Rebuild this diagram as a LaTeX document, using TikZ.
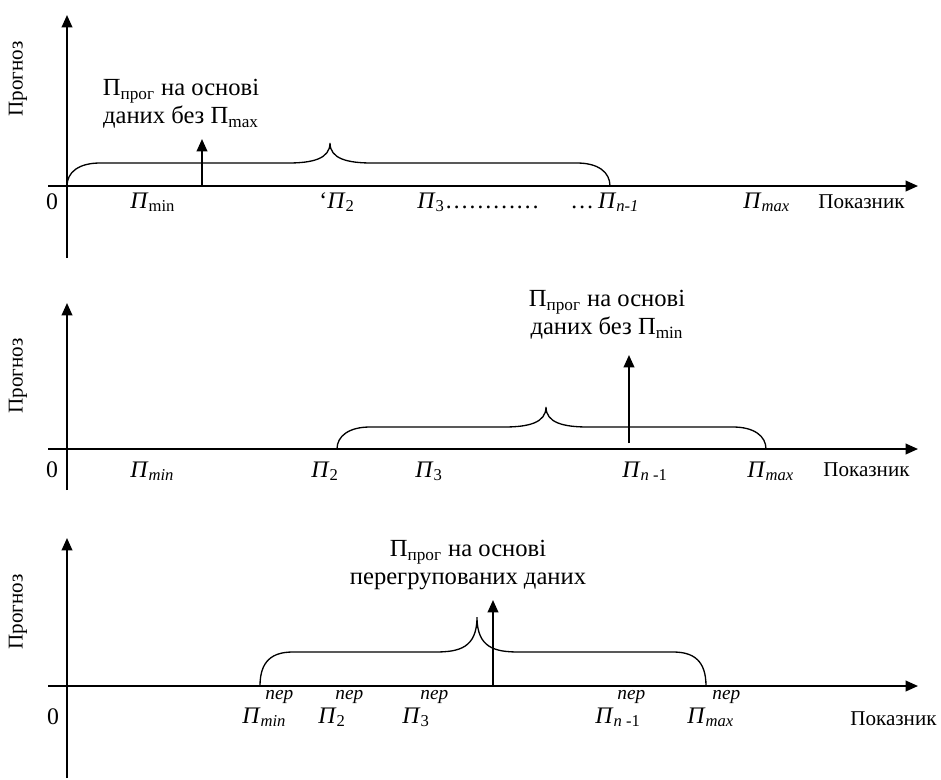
\documentclass[tikz,border=0pt]{standalone}
\usepackage{fontspec}
\setmainfont{Liberation Serif}
\usetikzlibrary{arrows.meta}

% brace over an interval: left x, peak x, right x, axis y, flat y, peak y
\newcommand{\prbrace}[6]{%
  \draw[curly] (#1,#4) .. controls (#1,#5+9) and (#1+12,#5) .. (#1+33,#5)
    -- (#2-42,#5) .. controls (#2-18,#5) and (#2,#5-4) .. (#2,#6)
    .. controls (#2,#5-4) and (#2+18,#5) .. (#2+42,#5)
    -- (#3-33,#5) .. controls (#3-12,#5) and (#3,#5+9) .. (#3,#4);}

\begin{document}
\begin{tikzpicture}[x=0.02cm,y=-0.02cm,
    axis/.style={line width=1.1pt,-{Triangle[length=7pt,width=6pt]}},
    curly/.style={line width=0.75pt},
    val/.style={inner sep=0pt,anchor=base west,font=\fontsize{13.5}{15}\selectfont},
    per/.style={inner sep=0pt,anchor=base west,font=\fontsize{11}{12}\selectfont\itshape},
    axname/.style={inner sep=0pt,font=\fontsize{12}{14}\selectfont},
    note/.style={inner sep=0pt,align=center,font=\fontsize{14}{16}\selectfont}]
  \useasboundingbox (0,0) rectangle (941,779);

  % first panel: without max
  \coordinate (ya1) at (67,258);
  \coordinate (yb1) at (67,15);
  \coordinate (xa1) at (48,186);
  \coordinate (xb1) at (918,186);
  \coordinate (fa1) at (202,186);
  \coordinate (fb1) at (202,139);
  \draw[axis] (ya1) -- (yb1);
  \draw[axis] (xa1) -- (xb1);
  \draw[axis] (fa1) -- (fb1);
  \prbrace{67}{330}{610}{186}{163}{143}
  \node[axname, rotate=90] (prog1) at (18,79) {Прогноз};
  \node[val, anchor=center] (zero1) at (52,202) {0};
  \node[val] (min1) at (130,208) {\textit{П}\textsubscript{min}};
  \node[val] (two1) at (319,208) {‘\textit{П}\textsubscript{2}};
  \node[val] (three1) at (417,208) {\textit{П}\textsubscript{3}…………};
  \node[val] (last1) at (570,208) {…\,\textit{П}\textsubscript{\textit{n-1}}};
  \node[val] (max1) at (743,208) {\textit{П}\textsubscript{\textit{max}}};
  \node[axname, anchor=west] (pok1) at (818,202) {Показник};
  \node[note] (txt1) at (181,104) {П\textsubscript{прог} на основі\\даних без П\textsubscript{max}};

  % second panel: without min
  \coordinate (ya2) at (67,490);
  \coordinate (yb2) at (67,303);
  \coordinate (xa2) at (48,449);
  \coordinate (xb2) at (918,449);
  \coordinate (fa2) at (629,443);
  \coordinate (fb2) at (629,355);
  \draw[axis] (ya2) -- (yb2);
  \draw[axis] (xa2) -- (xb2);
  \draw[axis] (fa2) -- (fb2);
  \prbrace{337}{546}{766}{449}{427}{407}
  \node[axname, rotate=90] (prog2) at (18,376) {Прогноз};
  \node[val, anchor=center] (zero2) at (52,470) {0};
  \node[val] (min2) at (130,477) {\textit{П}\textsubscript{\textit{min}}};
  \node[val] (two2) at (311,477) {\textit{П}\textsubscript{2}};
  \node[val] (three2) at (415,477) {\textit{П}\textsubscript{3}};
  \node[val] (last2) at (622,477) {\textit{П}\textsubscript{\textit{n} -1}};
  \node[val] (max2) at (747,477) {\textit{П}\textsubscript{\textit{max}}};
  \node[axname, anchor=west] (pok2) at (823,470) {Показник};
  \node[note] (txt2) at (607,315) {П\textsubscript{прог} на основі\\даних без П\textsubscript{min}};

  % third panel: regrouped data
  \coordinate (ya3) at (67,778);
  \coordinate (yb3) at (67,538);
  \coordinate (xa3) at (48,686);
  \coordinate (xb3) at (918,686);
  \coordinate (fa3) at (493,686);
  \coordinate (fb3) at (493,600);
  \draw[axis] (ya3) -- (yb3);
  \draw[axis] (xa3) -- (xb3);
  \draw[axis] (fa3) -- (fb3);
  \prbrace{260}{477}{706}{686}{652}{617}
  \node[axname, rotate=90] (prog3) at (18,612) {Прогноз};
  \node[val, anchor=center] (zero3) at (53,717) {0};
  \foreach \name/\xp in {pa/265,pb/335,pc/420,pd/617,pe/712}
    \node[per] (\name) at (\xp,699) {пер};
  \node[val] (min3) at (242,723) {\textit{П}\textsubscript{\textit{min}}};
  \node[val] (two3) at (318,723) {\textit{П}\textsubscript{2}};
  \node[val] (three3) at (402,723) {\textit{П}\textsubscript{3}};
  \node[val] (last3) at (595,723) {\textit{П}\textsubscript{\textit{n} -1}};
  \node[val] (max3) at (687,723) {\textit{П}\textsubscript{\textit{max}}};
  \node[axname, anchor=west] (pok3) at (850,719) {Показник};
  \node[note] (txt3) at (468,565) {П\textsubscript{прог} на основі\\перегрупованих даних};
\end{tikzpicture}
\end{document}
